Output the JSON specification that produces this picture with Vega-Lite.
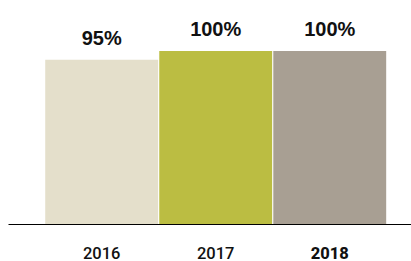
{
  "$schema": "https://vega.github.io/schema/vega-lite/v6.json",
  "width": 403,
  "height": 173,
  "autosize": {"type": "none"},
  "padding": {"left": 8, "top": 51, "right": 0, "bottom": 37},
  "background": "white",
  "config": {"view": {"stroke": null}},
  "data": {"values": [
    {"year": "2016", "pct": 95, "label": "95%"},
    {"year": "2017", "pct": 100, "label": "100%"},
    {"year": "2018", "pct": 100, "label": "100%"}
  ]},
  "encoding": {
    "x": {
      "field": "year", "type": "nominal", "sort": null,
      "scale": {"paddingInner": 0.01, "paddingOuter": 0.272, "align": 0.6},
      "axis": {
        "title": null, "labelAngle": 0, "ticks": false,
        "domainColor": "#000000", "domainWidth": 1,
        "labelFont": "Roboto", "labelFontSize": 16.5, "labelColor": "#111111",
        "labelPadding": 21,
        "labelFontWeight": {"condition": {"test": "datum.value === '2018'", "value": 800}, "value": 500}
      }
    },
    "y": {
      "field": "pct", "type": "quantitative",
      "scale": {"domain": [0, 100], "nice": false},
      "axis": null
    }
  },
  "layer": [
    {
      "mark": {"type": "bar"},
      "encoding": {
        "color": {
          "field": "year", "type": "nominal", "legend": null,
          "scale": {"domain": ["2016", "2017", "2018"], "range": ["#e4dfcb", "#bbbd42", "#a89f93"]}
        }
      }
    },
    {
      "mark": {"type": "text", "dy": -21, "font": "Liberation Sans", "fontSize": 20, "fontWeight": "bold", "color": "#111111", "baseline": "middle"},
      "encoding": {"text": {"field": "label"}}
    }
  ]
}
